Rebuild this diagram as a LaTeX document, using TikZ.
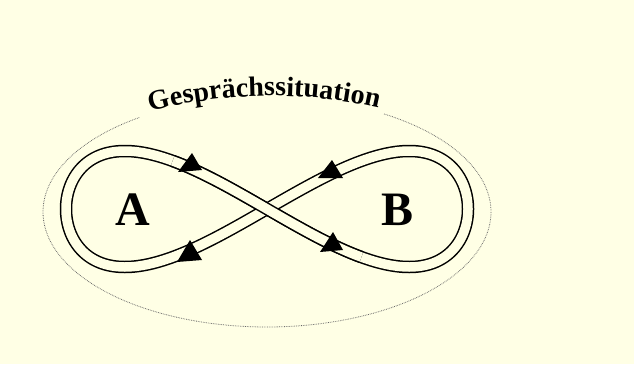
\documentclass[tikz,border=0pt]{standalone}
\usepackage{fontspec}
\setmainfont{Liberation Serif}
\usetikzlibrary{decorations.text}
\definecolor{bgcol}{RGB}{255,255,229}
\newcommand\gsfont{\fontsize{28}{32}\selectfont\bfseries}
\tikzset{
  tube/.style={draw=black, line width=1.5pt, double=bgcol, double distance=9.5pt, line join=round},
  situation/.style={draw=black!60, line width=0.8pt, dash pattern=on 0.7pt off 1pt},
  bigletter/.style={font=\fontsize{48}{52}\selectfont\bfseries, inner sep=0pt},
  arrowhead/.style={fill=black}
}
\begin{document}
\begin{tikzpicture}[x=1pt,y=-1pt]
\fill[bgcol] (0,0) rectangle (634,364);
\useasboundingbox (0,0) rectangle (634,364);
% situation ellipse (open at the top where the label sits)
\draw[situation] plot[domain=301.5:595.5, samples=240] ({267+224*cos(\x)}, {212+115*sin(\x)});
% label along the arc
\path[decorate, decoration={text along path, text align=center,
  text={|\gsfont|Gesprächssituation}}]
  (147,113) .. controls (220,91) and (310,91) .. (382,109);
% figure eight tube
\draw[tube] plot[domain=0:359, samples=360] ({267+201*cos(\x)}, {209+58*sin(2*\x)}) -- cycle;
\draw[tube] plot[domain=62:118, samples=80] ({267+201*cos(\x)}, {209+58*sin(2*\x)});
% arrow heads
\fill[arrowhead] (192,153) -- (178,172) -- (202,170) -- cycle;
\fill[arrowhead] (332,160) -- (318,178) -- (343,178) -- cycle;
\fill[arrowhead] (190,240) -- (177,262) -- (202,260) -- cycle;
\fill[arrowhead] (333,232) -- (320,252) -- (343,250) -- cycle;
% partners
\node[bigletter] (A) at (133,210) {A};
\node[bigletter] (B) at (398,210) {B};
\end{tikzpicture}
\end{document}
